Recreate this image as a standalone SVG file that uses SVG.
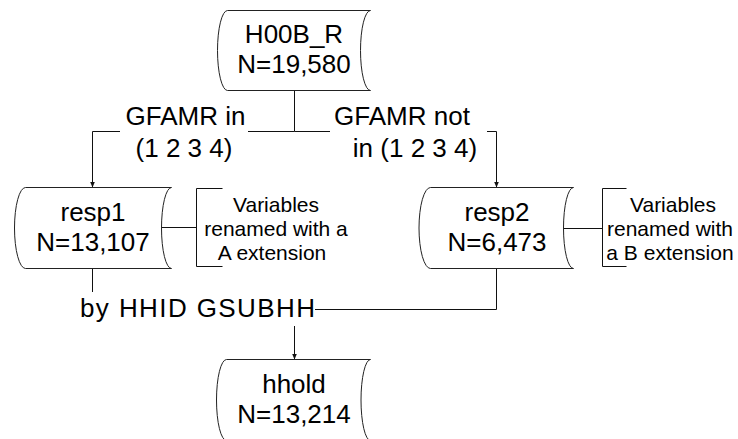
<svg xmlns="http://www.w3.org/2000/svg" width="738" height="439" viewBox="0 0 738 439">
<style>
.shape{fill:#fff;stroke:#222;stroke-width:1}
.conn{fill:none;stroke:#111;stroke-width:1}
.t{font-family:"Liberation Sans",Arial,sans-serif;font-size:26px;fill:#000;text-anchor:middle}
.s{font-family:"Liberation Sans",Arial,sans-serif;font-size:21px;fill:#000;text-anchor:middle}
</style>
<defs>
<marker id="arr" viewBox="0 0 6 5" refX="6" refY="2.5" markerWidth="6" markerHeight="5" orient="auto" markerUnits="userSpaceOnUse">
<path d="M0,0 L6,2.5 L0,5 z" fill="#111"/>
</marker>
</defs>
<rect width="738" height="439" fill="#fff"/>
<g id="connectors">
<path class="conn" d="M294.5 90.5 V131.5 H248"/>
<path class="conn" d="M120 131.5 H92.5 V187.5" marker-end="url(#arr)"/>
<path class="conn" d="M294.5 131.5 H330"/>
<path class="conn" d="M487 131.5 H496.5 V187.5" marker-end="url(#arr)"/>
<path class="conn" d="M92.5 268.5 V292"/>
<path class="conn" d="M315 309.5 H496.5 V268.5"/>
<path class="conn" d="M294.5 326 V359.5" marker-end="url(#arr)"/>
<path class="conn" d="M161.5 227.5 H196.5"/>
<path class="conn" d="M563.5 228.5 H602.5"/>
</g>
<g id="H00B_R">
<path class="shape" d="M227.5 10.5 H370.5 A10 40 0 0 0 370.5 90.5 H227.5 A10 40 0 0 1 227.5 10.5 Z"/>
<text class="t" x="294" y="43">H00B_R</text>
<text class="t" x="294" y="73">N=19,580</text>
</g>
<g id="label-in">
<text class="t" x="185.5" y="125">GFAMR in</text>
<text class="t" x="184" y="156.5">(1 2 3 4)</text>
</g>
<g id="label-notin">
<text class="t" x="402" y="125">GFAMR not</text>
<text class="t" x="415" y="156.5">in (1 2 3 4)</text>
</g>
<g id="resp1">
<path class="shape" d="M25.5 187.5 H171.5 A10 40.5 0 0 0 171.5 268.5 H25.5 A11 40.5 0 0 1 25.5 187.5 Z"/>
<text class="t" x="93" y="221">resp1</text>
<text class="t" x="93" y="251">N=13,107</text>
</g>
<g id="note-A">
<path class="conn" d="M222.5 188.5 H196.5 V266.5 H222.5"/>
<text class="s" x="276" y="212">Variables</text>
<text class="s" x="276" y="236">renamed with a</text>
<text class="s" x="272" y="260">A extension</text>
</g>
<g id="resp2">
<path class="shape" d="M430.5 187.5 H573.5 A10 40.5 0 0 0 573.5 268.5 H430.5 A11.5 40.5 0 0 1 430.5 187.5 Z"/>
<text class="t" x="497" y="221">resp2</text>
<text class="t" x="497" y="251">N=6,473</text>
</g>
<g id="note-B">
<path class="conn" d="M626.5 188.5 H602.5 V266.5 H626.5"/>
<text class="s" x="673" y="212">Variables</text>
<text class="s" x="670" y="236">renamed with</text>
<text class="s" x="670" y="260">a B extension</text>
</g>
<g id="merge">
<text class="t" x="197.5" y="317" textLength="235" lengthAdjust="spacing">by HHID GSUBHH</text>
</g>
<g id="hhold">
<path class="shape" d="M226.5 359.5 H370.5 A9.5 40.5 0 0 0 370.5 440.5 H226.5 A10 40.5 0 0 1 226.5 359.5 Z"/>
<text class="t" x="294" y="393">hhold</text>
<text class="t" x="294" y="423">N=13,214</text>
</g>
</svg>
